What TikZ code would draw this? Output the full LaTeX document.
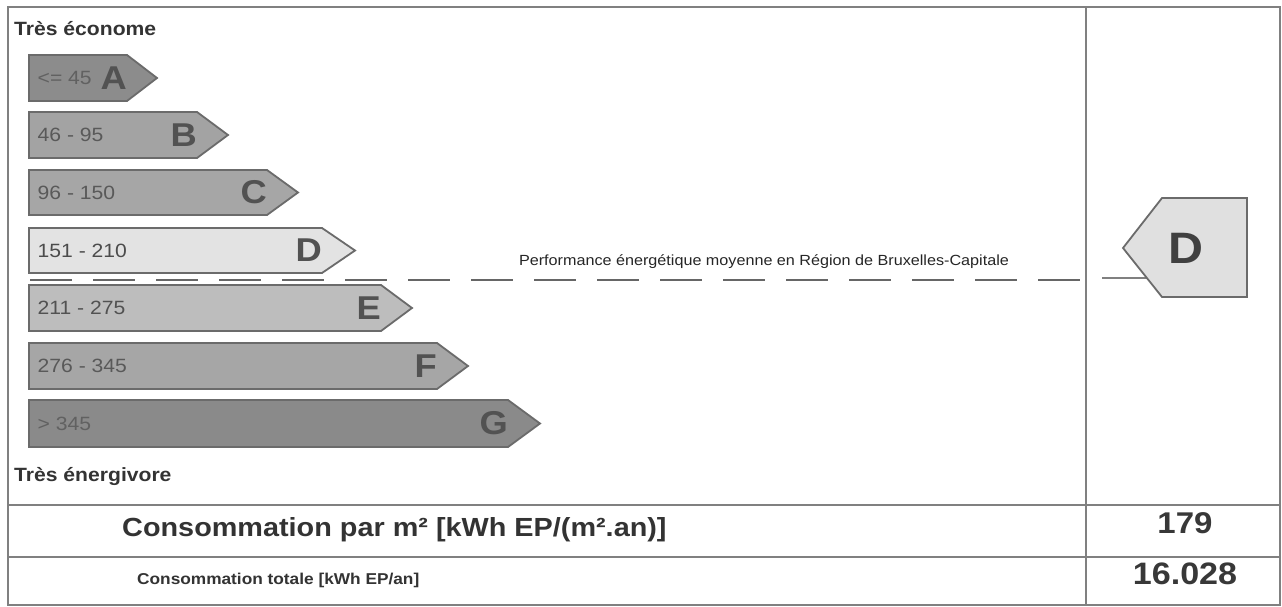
\documentclass[tikz,border=0pt]{standalone}
\usepackage{fontspec}
\setmainfont{Liberation Sans}[FakeStretch=1.1]
\begin{document}
\begin{tikzpicture}[x=1pt,y=-1pt,
  frame/.style={draw=black!50,line width=2.2pt},
  barshape/.style={draw=black!58,line width=1.8pt,line join=miter},
  rangelabel/.style={anchor=west,inner sep=0pt,font=\fontsize{19.2}{21}\selectfont},
  classletter/.style={anchor=east,inner sep=0pt,text=black!68,font=\bfseries\fontsize{33}{36}\selectfont},
  heading/.style={anchor=west,inner sep=0pt,text=black!80,font=\bfseries\fontsize{19.2}{21}\selectfont}]
\useasboundingbox (0,0) rectangle (1282,607);
\fill[white] (0,0) rectangle (1282,607);
% frame and table lines
\draw[frame] (8,7) rectangle (1280,605);
\draw[frame] (1086,7) -- (1086,605);
\draw[frame] (8,505) -- (1280,505);
\draw[frame] (8,557) -- (1280,557);
% headings
\node[heading] (econ) at (14,29) {Très économe};
\node[heading] (energ) at (14,476) {Très énergivore};
% bars: #1 name, #2 top, #3 bottom, #4 rect right, #5 tip x, #6 fill, #7 range, #8 letter, #9 range colour
\newcommand\energybar[9]{%
  \path[barshape,fill=#6] (29,#2) -- (#4,#2) -- (#5,{(#2+#3)/2}) -- (#4,#3) -- (29,#3) -- cycle;
  \node[rangelabel,text=#9] (#1r) at (37.5,{(#2+#3)/2}) {#7};
  \node[classletter] (#1l) at (#4,{(#2+#3)/2}) {#8};
}
\energybar{a}{55}{101}{127}{157}{black!45}{<= 45}{A}{black!62}
\energybar{b}{112}{158}{197}{228}{black!36}{46 - 95}{B}{black!65}
\energybar{c}{170}{215}{267}{298}{black!35}{96 - 150}{C}{black!65}
\energybar{d}{228}{273}{322}{355}{black!11}{151 - 210}{D}{black!70}
\energybar{e}{285}{331}{381}{412}{black!26}{211 - 275}{E}{black!68}
\energybar{f}{343}{389}{437}{468}{black!35}{276 - 345}{F}{black!65}
\energybar{g}{400}{447}{508}{540}{black!46}{> 345}{G}{black!62}
% average line
\coordinate (dashstart) at (30,280);
\coordinate (dashend) at (1084,280);
\draw[black!60,line width=1.6pt,dash pattern=on 42pt off 21pt] (dashstart) -- (dashend);
\node[inner sep=0pt,text=black!85,font=\fontsize{14.7}{16}\selectfont] (avg) at (764,262) {Performance énergétique moyenne en Région de Bruxelles-Capitale};
% current rating indicator
\coordinate (indstart) at (1102,278);
\coordinate (indend) at (1147,278);
\draw[black!50,line width=1.8pt] (indstart) -- (indend);
\path[barshape,fill=black!12] (1247,198) -- (1162,198) -- (1123,248) -- (1162,297) -- (1247,297) -- cycle;
\node[inner sep=0pt,text=black!75,font=\bfseries\fontsize{44}{48}\selectfont] (cur) at (1186,248) {D};
% consumption rows
\node[anchor=west,inner sep=0pt,text=black!80,font=\bfseries\fontsize{26.2}{28}\selectfont] (perm2) at (122,530) {Consommation par m² [kWh EP/(m².an)]};
\node[anchor=west,inner sep=0pt,text=black!80,font=\bfseries\fontsize{15.7}{17}\selectfont] (tot) at (137,580) {Consommation totale [kWh EP/an]};
\node[inner sep=0pt,text=black!78,font=\bfseries\fontsize{30}{32}\selectfont] (v1) at (1185,523) {179};
\node[inner sep=0pt,text=black!78,font=\bfseries\fontsize{31}{33}\selectfont] (v2) at (1185,574) {16.028};
\end{tikzpicture}
\end{document}
